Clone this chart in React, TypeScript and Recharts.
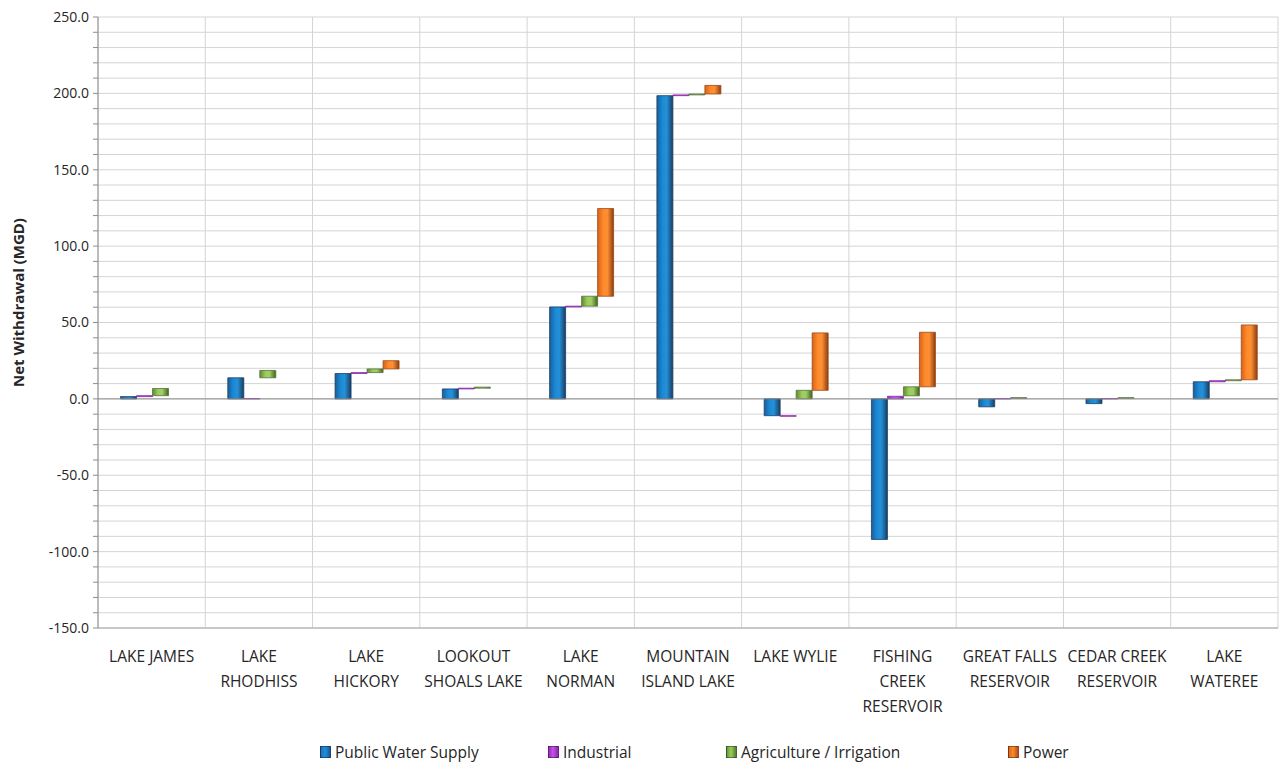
import { Bar, BarChart, CartesianGrid, Legend, ReferenceLine, XAxis, YAxis } from 'recharts';

type Span = [number, number] | null;

// category labels, one entry per wrapped line
const lakes: string[][] = [
  ['LAKE JAMES'],
  ['LAKE', 'RHODHISS'],
  ['LAKE', 'HICKORY'],
  ['LOOKOUT', 'SHOALS LAKE'],
  ['LAKE', 'NORMAN'],
  ['MOUNTAIN', 'ISLAND LAKE'],
  ['LAKE WYLIE'],
  ['FISHING', 'CREEK', 'RESERVOIR'],
  ['GREAT FALLS', 'RESERVOIR'],
  ['CEDAR CREEK', 'RESERVOIR'],
  ['LAKE', 'WATEREE'],
];

// floating bars: [from, to] in MGD, stepping up from the previous use
const publicWaterSupply: Span[] = [
  [0, 1.5], [0, 13.8], [0, 16.6], [0, 6.5], [0, 60.2], [0, 198.5],
  [-11, 0], [-92, 0], [-5.2, 0], [-3.1, 0], [0, 11.2],
];
const industrial: Span[] = [
  [1.5, 2.1], [0, 0.2], [16.6, 17.2], [6.5, 7.0], [60.2, 60.7], [198.5, 199],
  [-11.4, -11], [0, 1.7], [0, 0.2], [0, 0.2], [11.2, 11.9],
];
const agriculture: Span[] = [
  [2.1, 6.8], [13.8, 18.6], [17.2, 19.6], [7.0, 7.7], [60.7, 67.2], [199, 199.6],
  [0, 5.6], [2.0, 7.9], [0.4, 0.8], [0.4, 0.8], [11.9, 12.5],
];
const power: Span[] = [
  null, null, [19.6, 25], null, [67.2, 124.6], [199.6, 205.2],
  [5.6, 43.2], [7.9, 43.6], null, null, [12.5, 48.4],
];

const yTicks = [
  -150, -140, -130, -120, -110, -100, -90, -80, -70, -60, -50, -40, -30, -20, -10,
  0, 10, 20, 30, 40, 50, 60, 70, 80, 90, 100, 110, 120, 130, 140, 150,
  160, 170, 180, 190, 200, 210, 220, 230, 240, 250,
];

const data = lakes.map((lines, i) => ({
  name: lines.join(' '),
  pws: publicWaterSupply[i],
  ind: industrial[i],
  ag: agriculture[i],
  pow: power[i],
}));

const SERIES = [
  { key: 'pws', name: 'Public Water Supply', fill: 'url(#gBlue)', stroke: '#1b3f66' },
  { key: 'ind', name: 'Industrial', fill: 'url(#gPurple)', stroke: '#8a2aa8' },
  { key: 'ag', name: 'Agriculture / Irrigation', fill: 'url(#gGreen)', stroke: '#5a6e42' },
  { key: 'pow', name: 'Power', fill: 'url(#gOrange)', stroke: '#9a4a18' },
];

const FONT = "'Open Sans', sans-serif";
const TEXT = '#262626';

function LakeTick({ x, y, payload }: any) {
  const lines = lakes[payload.index] ?? [];
  return (
    <text x={x} y={y + 34} textAnchor="middle" fontFamily={FONT} fontSize={15.5} fill={TEXT}>
      {lines.map((l, i) => (
        <tspan key={i} x={x} dy={i === 0 ? 0 : 25}>
          {l}
        </tspan>
      ))}
    </text>
  );
}

const legendSwatch: Record<string, string> = {
  pws: 'linear-gradient(90deg, #1f6fb4, #1e90e0 45%, #1f5a92)',
  ind: 'linear-gradient(90deg, #9a30c0, #c452e6 45%, #8a2aa8)',
  ag: 'linear-gradient(90deg, #6a9a34, #9ccc5c 45%, #55802a)',
  pow: 'linear-gradient(90deg, #e06a1e, #ff8a2a 45%, #b0501a)',
};
const legendLeft = [320, 548, 726, 1008];

function LegendRow() {
  return (
    <div style={{ position: 'relative', height: 22, width: 1279, fontFamily: FONT, fontSize: 15.5, color: TEXT }}>
      {SERIES.map((s, i) => (
        <div
          key={s.key}
          style={{ position: 'absolute', left: legendLeft[i], top: 0, height: 22, display: 'flex', alignItems: 'center', whiteSpace: 'nowrap' }}
        >
          <span
            style={{
              display: 'inline-block',
              flex: '0 0 11px',
              width: 11,
              height: 12,
              boxSizing: 'border-box',
              border: '1px solid rgba(0,0,0,0.35)',
              background: legendSwatch[s.key],
              marginRight: 4,
            }}
          />
          <span>{s.name}</span>
        </div>
      ))}
    </div>
  );
}

function Grad({ id, a, b, c }: { id: string; a: string; b: string; c: string }) {
  return (
    <linearGradient id={id} x1="0" y1="0" x2="1" y2="0">
      <stop offset="0%" stopColor={a} />
      <stop offset="35%" stopColor={b} />
      <stop offset="60%" stopColor={b} stopOpacity={0.95} />
      <stop offset="100%" stopColor={c} />
    </linearGradient>
  );
}

export default function App() {
  return (
    <div style={{ width: 1279, height: 763, background: '#fff' }}>
      <style>{'body{margin:0}'}</style>
      <BarChart
        width={1279}
        height={763}
        data={data}
        margin={{ top: 17, right: 1, bottom: 0, left: 0 }}
        barGap={0}
        barCategoryGap="21%"
      >
        <defs>
          <Grad id="gBlue" a="#1c5d99" b="#1a8ad6" c="#173d63" />
          <Grad id="gPurple" a="#8a2aa8" b="#c04ee0" c="#6e1f88" />
          <Grad id="gGreen" a="#5d8a2e" b="#9ccc5c" c="#3f6218" />
          <Grad id="gOrange" a="#d8621a" b="#ff8a2a" c="#8a3c10" />
        </defs>
        <CartesianGrid
          stroke="#d4d4d4"
          horizontal
          vertical
          verticalCoordinatesGenerator={({ offset }: any) =>
            lakes.map((_, i) => offset.left + (i * offset.width) / lakes.length).concat(offset.left + offset.width)
          }
        />
        <XAxis
          dataKey="name"
          interval={0}
          tick={<LakeTick />}
          tickLine={false}
          axisLine={false}
          tickSize={0}
          tickMargin={0}
          height={113}
        />
        <YAxis
          width={98}
          domain={[-150, 250]}
          ticks={yTicks}
          interval={0}
          tickFormatter={(v: number) => (v % 50 === 0 ? v.toFixed(1) : '')}
          tick={{ fontFamily: FONT, fontSize: 14, fill: TEXT }}
          tickSize={5}
          tickMargin={4}
          stroke="#8c8c8c"
          label={{
            content: ({ viewBox }: any) => {
              const cx = 18;
              const cy = viewBox.y + viewBox.height / 2 - 20;
              return (
                <text
                  x={cx}
                  y={cy}
                  transform={`rotate(-90 ${cx} ${cy})`}
                  textAnchor="middle"
                  dominantBaseline="central"
                  fontFamily={FONT}
                  fontWeight={700}
                  fontSize={15}
                  fill={TEXT}
                >
                  Net Withdrawal (MGD)
                </text>
              );
            },
          }}
        />
        <Legend verticalAlign="bottom" align="left" content={<LegendRow />} />
        <ReferenceLine y={-150} stroke="#a6a6a6" />
        <ReferenceLine y={0} stroke="#8c8c8c" />
        {SERIES.map((s) => (
          <Bar
            key={s.key}
            dataKey={s.key}
            name={s.name}
            fill={s.fill}
            stroke={s.stroke}
            strokeWidth={0.8}
            isAnimationActive={false}
          />
        ))}
      </BarChart>
    </div>
  );
}
